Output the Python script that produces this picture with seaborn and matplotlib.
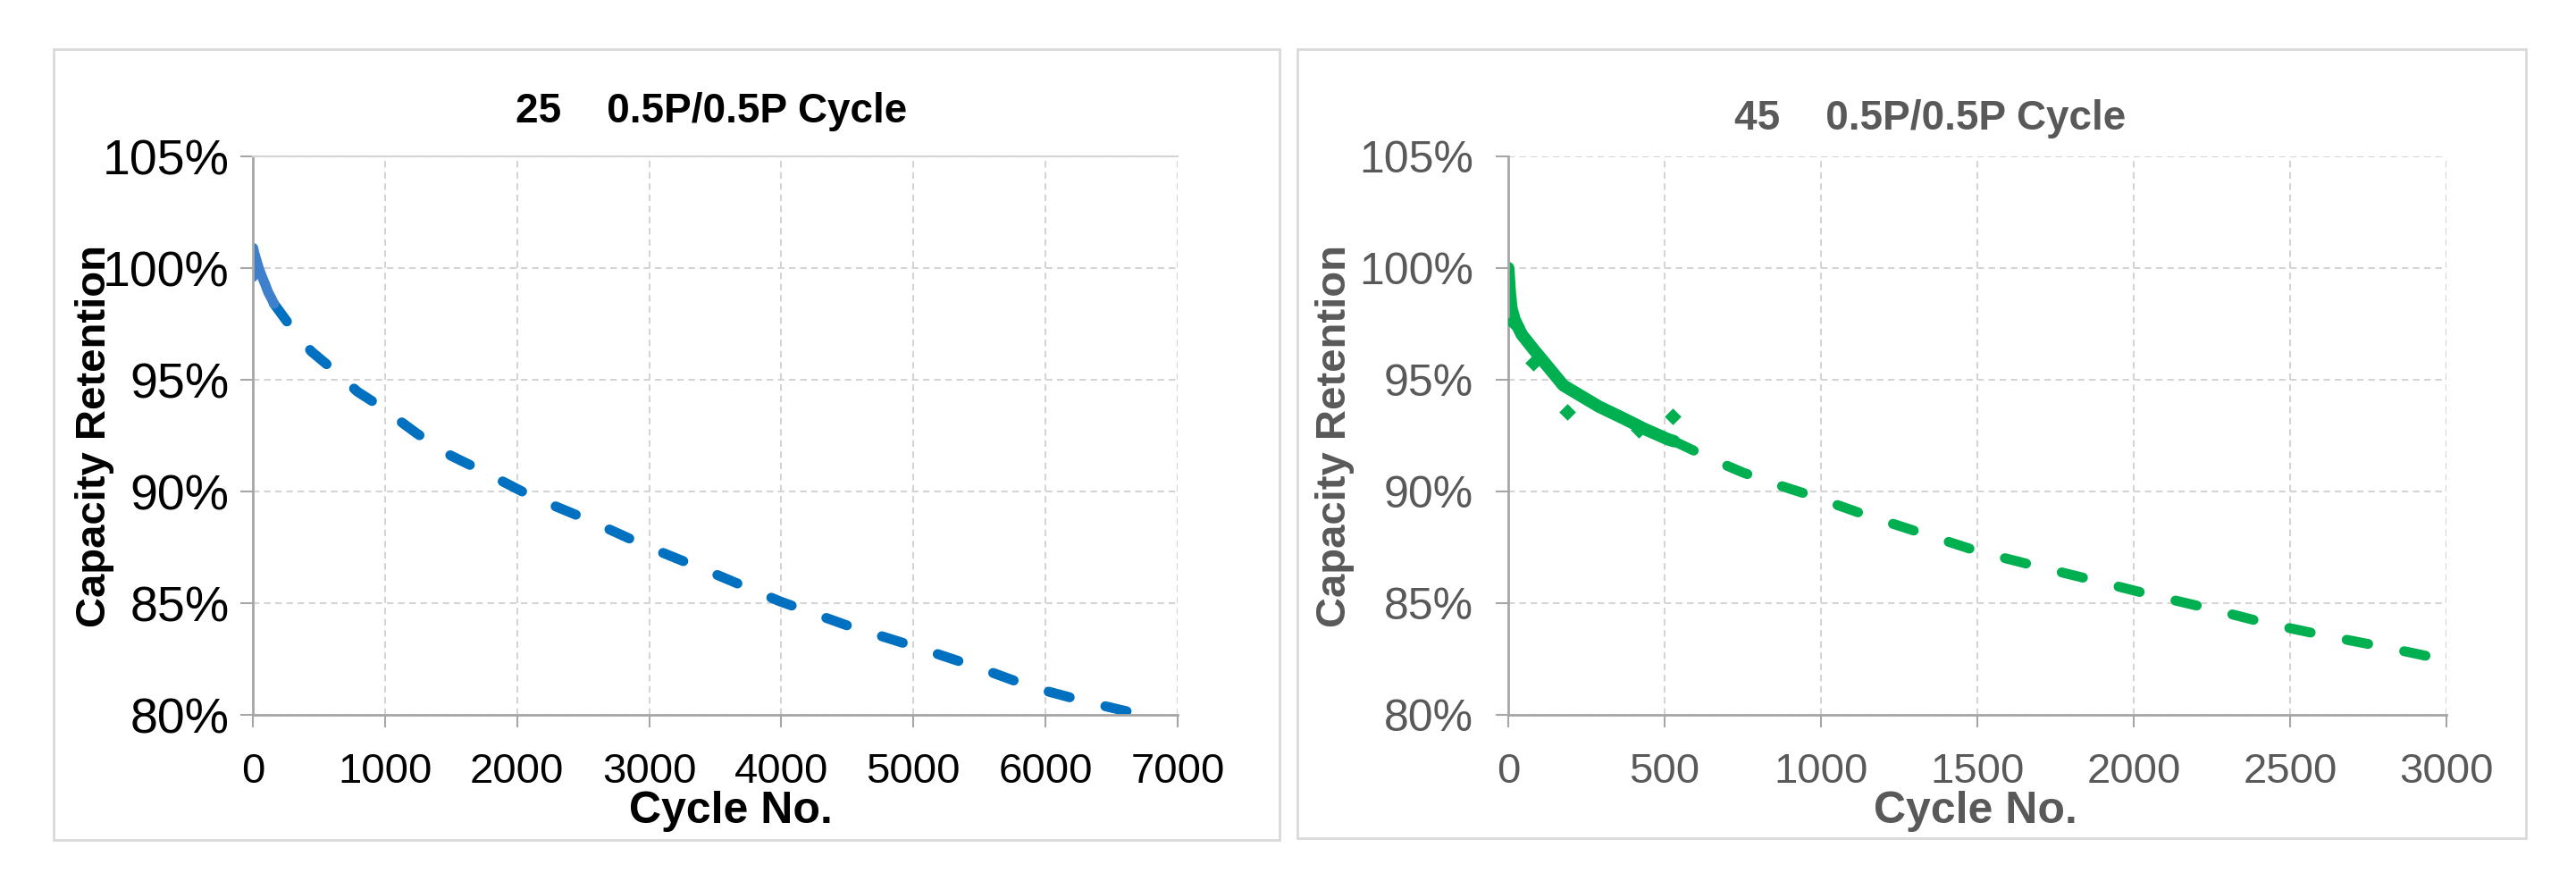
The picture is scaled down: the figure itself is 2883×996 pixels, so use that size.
import matplotlib
matplotlib.use("Agg")
import matplotlib.pyplot as plt
from matplotlib.patches import Rectangle
from matplotlib.ticker import PercentFormatter
import seaborn as sns
import pandas as pd

# ---------------- data ----------------
title_25 = "25    0.5P/0.5P Cycle"
title_45 = "45    0.5P/0.5P Cycle"
x_label = "Cycle No."
y_label = "Capacity Retention"

# 25 C measured data
c25_cycles = [0, 3, 10, 25, 45, 70, 95, 115, 140, 160]
c25_retention = [99.6, 100.9, 100.7, 100.4, 100.0, 99.6, 99.25, 98.93, 98.65, 98.4]
# 25 C fitted / extrapolated curve
f25_cycles = [160, 284, 442, 600, 791, 949, 1240, 1500, 1736, 2117, 2550, 2959,
              3500, 3990, 4500, 5020, 5500, 5897, 6300, 6800]
f25_retention = [98.4, 97.4, 96.27, 95.49, 94.47, 93.87, 92.6, 91.6, 90.92, 89.76,
                 88.7, 87.6, 86.3, 85.08, 84.0, 83.04, 82.1, 81.24, 80.6, 79.9]

# 45 C measured data
c45_cycles = [0, 5, 10, 20, 43, 81, 129, 176, 224, 290, 367, 434, 510, 530]
c45_retention = [100.0, 98.9, 98.2, 97.7, 97.03, 96.36, 95.55, 94.75, 94.35, 93.8,
                 93.28, 92.81, 92.34, 92.25]
# 45 C scattered outlier points
o45_cycles = [14, 81, 188, 416, 526]
o45_retention = [97.6, 95.76, 93.56, 92.75, 93.36]
# 45 C fitted / extrapolated curve
f45_cycles = [530, 650, 750, 850, 950, 1138, 1321, 1502, 1688, 1873, 2059, 2245,
              2428, 2618, 2807, 3000]
f45_retention = [92.25, 91.45, 90.85, 90.35, 89.9, 88.97, 88.14, 87.32, 86.66, 86.02,
                 85.36, 84.75, 84.09, 83.53, 83.02, 82.45]

y_ticks = [80, 85, 90, 95, 100, 105]
x_ticks_25 = [0, 1000, 2000, 3000, 4000, 5000, 6000, 7000]
x_ticks_45 = [0, 500, 1000, 1500, 2000, 2500, 3000]

BLUE = "#0070C0"
BLUE_DATA = "#3F80CC"
GREEN = "#00B050"
GRAY_TXT = "#595959"

# ---------------- figure ----------------
sns.set_theme(style="white")
plt.rcParams["font.family"] = ["Liberation Sans", "DejaVu Sans"]

W, H = 2883, 996
fig = plt.figure(figsize=(W / 100, H / 100), dpi=100)
fig.patch.set_facecolor("white")


def px_rect(x0, y0, x1, y1):
    return [x0 / W, 1 - y1 / H, (x1 - x0) / W, (y1 - y0) / H]


# panel boxes
for (x0, y0, x1, y1) in [(60, 55, 1432, 940), (1452, 55, 2827, 938)]:
    r = px_rect(x0, y0, x1, y1)
    fig.add_artist(Rectangle((r[0], r[1]), r[2], r[3], transform=fig.transFigure,
                             fill=False, ec="#D9D9D9", lw=2, zorder=0))

ax1 = fig.add_axes(px_rect(283, 175, 1318, 800))
ax2 = fig.add_axes(px_rect(1688, 175, 2738, 800))

DASH = [2.2, 3.7]


def style_axes(ax, xticks, xmax, txt_color, top_solid, ysize, ypad):
    ax.set_xlim(0, xmax)
    ax.set_ylim(80, 105)
    ax.set_xticks(xticks)
    ax.set_yticks(y_ticks)
    ax.yaxis.set_major_formatter(PercentFormatter(xmax=100, decimals=0))
    ax.set_axisbelow(True)
    ax.grid(True, color="#D4D4D4", linestyle=(0, (3.5, 2.5)), lw=1.5)
    for s in ["left", "bottom"]:
        ax.spines[s].set_color("#A6A6A6")
        ax.spines[s].set_linewidth(2)
    ax.spines["right"].set_visible(False)
    if top_solid:
        ax.spines["top"].set_color("#D4D4D4")
        ax.spines["top"].set_linewidth(1.5)
    else:
        ax.spines["top"].set_visible(False)
    ax.tick_params(axis="both", which="major", direction="out", length=10, width=1.5,
                   color="#A6A6A6", labelcolor=txt_color, bottom=True, left=True)
    ax.tick_params(axis="x", labelsize=34, pad=20)
    ax.tick_params(axis="y", labelsize=ysize, pad=ypad)
    for lab in ax.get_xticklabels() + ax.get_yticklabels():
        lab.set_family(["Liberation Sans", "DejaVu Sans"])


# ---- 25 C panel ----
df25 = pd.DataFrame({"cycle": c25_cycles, "ret": c25_retention})
fit25 = pd.DataFrame({"cycle": f25_cycles, "ret": f25_retention})
sns.lineplot(data=fit25, x="cycle", y="ret", ax=ax1, color=BLUE, lw=8,
             estimator=None, sort=False)
l = ax1.lines[-1]
l.set_dashes(DASH)
l.set_dash_capstyle("round")
sns.lineplot(data=df25, x="cycle", y="ret", ax=ax1, color=BLUE_DATA, lw=8,
             estimator=None, sort=False)
ax1.lines[-1].set_solid_capstyle("round")
style_axes(ax1, x_ticks_25, 7000, "black", True, 40, 9)

# ---- 45 C panel ----
df45 = pd.DataFrame({"cycle": c45_cycles, "ret": c45_retention})
fit45 = pd.DataFrame({"cycle": f45_cycles, "ret": f45_retention})
out45 = pd.DataFrame({"cycle": o45_cycles, "ret": o45_retention})
sns.lineplot(data=fit45, x="cycle", y="ret", ax=ax2, color=GREEN, lw=8,
             estimator=None, sort=False)
l = ax2.lines[-1]
l.set_dashes(DASH)
l.set_dash_capstyle("round")
sns.lineplot(data=df45, x="cycle", y="ret", ax=ax2, color=GREEN, lw=10,
             estimator=None, sort=False)
ax2.lines[-1].set_solid_capstyle("round")
ax2.lines[-1].set_solid_joinstyle("round")
sns.scatterplot(data=out45, x="cycle", y="ret", ax=ax2, color=GREEN, marker="D",
                s=90, edgecolor=GREEN, linewidth=0, zorder=5)
style_axes(ax2, x_ticks_45, 3000, GRAY_TXT, False, 36, 18)

# ---- labels ----
for ax, col, xl_x, yl_x in [(ax1, "black", 0.517, -0.171), (ax2, GRAY_TXT, 0.498, -0.1848)]:
    ax.set_xlabel(x_label, fontsize=36, fontweight="bold", color=col,
                  family=["Liberation Sans", "DejaVu Sans"])
    ax.xaxis.set_label_coords(xl_x, -0.1936)
    ax.xaxis.label.set_va("baseline")
    ax.set_ylabel(y_label, fontsize=34, fontweight="bold", color=col,
                  family=["Liberation Sans", "DejaVu Sans"])
    ax.yaxis.set_label_coords(yl_x, 0.5)
    ax.yaxis.label.set_va("center")

tfam = ["Liberation Sans", "DejaVu Sans"]
fig.text(796 / W, 1 - 137 / H, title_25, ha="center", va="baseline", fontsize=33,
         fontweight="bold", color="black", family=tfam)
fig.text(2160 / W, 1 - 145 / H, title_45, ha="center", va="baseline", fontsize=33,
         fontweight="bold", color=GRAY_TXT, family=tfam)

fig.savefig("out.png", dpi=100, facecolor="white")
